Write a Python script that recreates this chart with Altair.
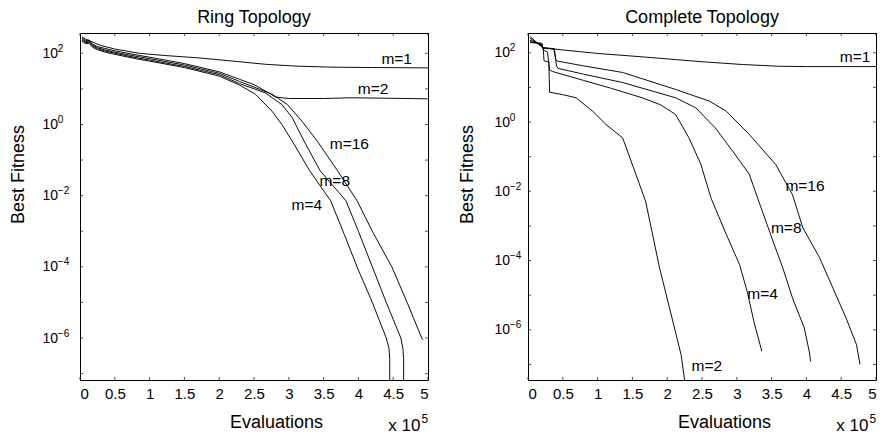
import altair as alt
import pandas as pd

# ---------------- data (x in units of 1e5 evaluations, y as log10 of best fitness) -------------
ring_m1_x = [0.03, 0.08, 0.13, 0.2, 0.3, 0.5, 0.85, 1.2, 1.71, 2.2, 2.67, 3.1, 3.62, 4.2, 5.0]
ring_m1_e = [2.46, 2.40, 2.36, 2.30, 2.22, 2.12, 2.00, 1.94, 1.87, 1.78, 1.69, 1.64, 1.61, 1.60, 1.59]

ring_m2_x = [0.03, 0.08, 0.13, 0.18, 0.25, 0.35, 0.5, 0.85, 1.0, 1.5, 2.0, 2.29, 2.5, 2.7, 2.81, 3.0, 3.5, 3.9, 4.3, 5.0]
ring_m2_e = [2.43, 2.36, 2.37, 2.26, 2.19, 2.14, 2.07, 1.94, 1.89, 1.71, 1.48, 1.27, 1.12, 0.90, 0.77, 0.73, 0.73, 0.75, 0.74, 0.72]

ring_m16_x = [0.03, 0.08, 0.13, 0.18, 0.25, 0.35, 0.5, 0.85, 1.0, 1.5, 2.0, 2.29, 2.5, 2.76, 2.98, 3.19, 3.41, 3.7, 3.98, 4.2, 4.48, 4.7, 4.91, 4.93]
ring_m16_e = [2.40, 2.33, 2.34, 2.23, 2.16, 2.10, 2.03, 1.90, 1.85, 1.67, 1.44, 1.21, 1.05, 0.85, 0.56, 0.09, -0.47, -1.3, -2.14, -3.0, -4.0, -5.0, -6.0, -6.05]

ring_m8_x = [0.03, 0.08, 0.13, 0.18, 0.25, 0.35, 0.5, 0.85, 1.0, 1.5, 2.0, 2.29, 2.66, 2.90, 3.05, 3.22, 3.45, 3.82, 4.0, 4.2, 4.4, 4.61, 4.64, 4.65, 4.65]
ring_m8_e = [2.37, 2.30, 2.31, 2.20, 2.13, 2.07, 2.00, 1.86, 1.81, 1.63, 1.40, 1.15, 0.89, 0.56, 0.19, -0.47, -1.3, -2.14, -3.0, -4.0, -5.0, -6.0, -6.3, -6.6, -9.0]

ring_m4_x = [0.03, 0.08, 0.13, 0.18, 0.25, 0.35, 0.5, 0.85, 1.0, 1.5, 2.0, 2.29, 2.52, 2.76, 2.90, 3.05, 3.3, 3.6, 3.8, 3.98, 4.2, 4.40, 4.44, 4.45, 4.45]
ring_m4_e = [2.34, 2.27, 2.28, 2.17, 2.10, 2.04, 1.97, 1.83, 1.78, 1.60, 1.36, 1.11, 0.85, 0.37, 0.0, -0.47, -1.3, -2.14, -3.1, -4.0, -5.0, -6.0, -6.3, -6.6, -9.0]

comp_m1_x = [0.03, 0.2, 0.21, 0.5, 1.0, 1.65, 2.5, 3.08, 3.6, 4.0, 5.0]
comp_m1_e = [2.32, 2.27, 2.15, 2.08, 1.98, 1.88, 1.74, 1.66, 1.61, 1.60, 1.60]

comp_m2_x = [0.03, 0.2, 0.22, 0.23, 0.30, 0.31, 0.5, 0.69, 0.93, 1.12, 1.36, 1.55, 1.69, 1.89, 2.08, 2.20, 2.26]
comp_m2_e = [2.30, 2.25, 2.10, 1.77, 1.73, 0.86, 0.79, 0.70, 0.31, -0.07, -0.46, -1.51, -2.29, -4.21, -5.75, -6.72, -7.6]

comp_m4_x = [0.03, 0.2, 0.22, 0.28, 0.31, 0.35, 0.8, 1.2, 1.64, 1.9, 2.12, 2.31, 2.48, 2.63, 2.85, 3.04, 3.15, 3.25, 3.36]
comp_m4_e = [2.36, 2.22, 2.08, 2.02, 1.50, 1.46, 1.20, 0.97, 0.70, 0.50, 0.22, -0.45, -1.2, -2.2, -3.25, -4.12, -4.9, -5.8, -6.62]

comp_m8_x = [0.03, 0.2, 0.22, 0.38, 0.41, 0.43, 0.8, 1.36, 2.12, 2.41, 2.69, 2.94, 3.18, 3.3, 3.52, 3.66, 3.80, 3.97, 4.04, 4.06]
comp_m8_e = [2.42, 2.18, 2.13, 2.10, 1.62, 1.55, 1.38, 1.14, 0.70, 0.41, -0.17, -0.84, -1.51, -2.2, -3.44, -4.21, -5.08, -5.95, -6.62, -6.91]

comp_m16_x = [0.03, 0.2, 0.22, 0.37, 0.40, 0.42, 0.8, 1.36, 2.12, 2.61, 2.85, 3.18, 3.56, 3.8, 3.95, 4.19, 4.38, 4.57, 4.72, 4.77]
comp_m16_e = [2.47, 2.16, 2.14, 2.12, 1.80, 1.76, 1.62, 1.43, 0.94, 0.60, 0.31, -0.36, -1.23, -2.1, -3.06, -3.92, -4.79, -5.66, -6.43, -7.0]

ring_label_text = ["m=1", "m=2", "m=16", "m=8", "m=4"]
ring_label_x = [4.55, 4.21, 3.87, 3.66, 3.26]
ring_label_e = [1.85, 0.99, -0.56, -1.60, -2.25]

comp_label_text = ["m=1", "m=16", "m=8", "m=4", "m=2"]
comp_label_x = [4.70, 3.98, 3.71, 3.37, 2.57]
comp_label_e = [1.87, -1.86, -3.07, -4.98, -7.05]

x_ticks = [0, 0.5, 1, 1.5, 2, 2.5, 3, 3.5, 4, 4.5, 5]
y_label_exps = [-6, -4, -2, 0, 2]
y_label_sup = ["−6", "−4", "−2", "0", "2"]
y_tick_exps = [-7, -6, -5, -4, -3, -2, -1, 0, 1, 2]

ring_domain_e = [-7.18, 2.57]
comp_domain_e = [-7.45, 2.57]

FONT = "Liberation Sans"


def series_df(pairs):
    rows = []
    for name, xs, es in pairs:
        for i, (xv, ev) in enumerate(zip(xs, es)):
            rows.append({"series": name, "i": i, "x": xv, "y": 10.0 ** ev})
    return pd.DataFrame(rows)


def panel(title, pairs, lab_text, lab_x, lab_e, dom_e, ytitle_x, ylab_pad):
    df = series_df(pairs)
    ydom = [10.0 ** dom_e[0], 10.0 ** dom_e[1]]
    xsc = alt.Scale(domain=[0, 5], nice=False, zero=False)
    ysc = alt.Scale(type="log", domain=ydom, nice=False)
    ax = alt.Axis(values=x_ticks, format="~g", title="Evaluations",
                  titleX=196, titleY=42, titleBaseline="middle", titleAlign="center",
                  labelPadding=6, labelFontSize=15, labelOverlap=False,
                  grid=False, ticks=False, domain=False)
    ay = alt.Axis(values=[10.0 ** e for e in y_label_exps], labelExpr="'10'",
                  labelAlign="left", labelPadding=ylab_pad,
                  title="Best Fitness", titleX=ytitle_x, titleY=141,
                  titleBaseline="middle", titleAlign="center",
                  labelFontSize=14, labelOverlap=False,
                  grid=False, ticks=False, domain=False)

    lines = alt.Chart(df).mark_line(color="black", strokeWidth=0.95, clip=True).encode(
        x=alt.X("x:Q", scale=xsc, axis=ax),
        y=alt.Y("y:Q", scale=ysc, axis=ay),
        detail="series:N",
        order="i:Q",
    )

    sdf = pd.DataFrame({"t": y_label_sup, "y": [10.0 ** e for e in y_label_exps]})
    sups = alt.Chart(sdf).mark_text(font=FONT, fontSize=10, color="black", align="left",
                                    baseline="middle", dx=-ylab_pad + 15.8, dy=-4.5).encode(
        x=alt.datum(0, scale=xsc, axis=ax), y=alt.Y("y:Q", scale=ysc, axis=ay), text="t:N")

    ldf = pd.DataFrame({"t": lab_text, "x": lab_x, "y": [10.0 ** e for e in lab_e]})
    labels = alt.Chart(ldf).mark_text(font=FONT, fontSize=15.5, color="black", baseline="middle").encode(
        x=alt.X("x:Q", scale=xsc, axis=ax), y=alt.Y("y:Q", scale=ysc, axis=ay), text="t:N")

    xt = pd.DataFrame({"x": x_ticks})
    yt = pd.DataFrame({"y": [10.0 ** e for e in y_tick_exps]})
    L = 3
    tb = alt.Chart(xt).mark_tick(orient="vertical", size=L, thickness=1, color="black", yOffset=-L / 2).encode(
        x=alt.X("x:Q", scale=xsc, axis=ax), y=alt.datum(ydom[0], scale=ysc, axis=ay))
    tt = alt.Chart(xt).mark_tick(orient="vertical", size=L, thickness=1, color="black", yOffset=L / 2).encode(
        x=alt.X("x:Q", scale=xsc, axis=ax), y=alt.datum(ydom[1], scale=ysc, axis=ay))
    tl = alt.Chart(yt).mark_tick(orient="horizontal", size=L, thickness=1, color="black", xOffset=L / 2).encode(
        y=alt.Y("y:Q", scale=ysc, axis=ay), x=alt.datum(0, scale=xsc, axis=ax))
    tr = alt.Chart(yt).mark_tick(orient="horizontal", size=L, thickness=1, color="black", xOffset=-L / 2).encode(
        y=alt.Y("y:Q", scale=ysc, axis=ay), x=alt.datum(5, scale=xsc, axis=ax))

    mult = alt.Chart(pd.DataFrame({"t": ["x 10"]})).mark_text(
        font=FONT, fontSize=17, color="black", align="right", baseline="alphabetic", dx=-7.5, dy=51).encode(
        x=alt.datum(5, scale=xsc, axis=ax), y=alt.datum(ydom[0], scale=ysc, axis=ay), text="t:N")
    mult_sup = alt.Chart(pd.DataFrame({"t": ["5"]})).mark_text(
        font=FONT, fontSize=12, color="black", align="left", baseline="alphabetic", dx=-6.5, dy=43).encode(
        x=alt.datum(5, scale=xsc, axis=ax), y=alt.datum(ydom[0], scale=ysc, axis=ay), text="t:N")

    return alt.layer(lines, sups, labels, tb, tt, tl, tr, mult, mult_sup).properties(
        width=348, height=347,
        title=alt.TitleParams(title, font=FONT, fontSize=18, fontWeight="normal", color="black", offset=6),
    )


ring = panel("Ring Topology",
             [("m=1", ring_m1_x, ring_m1_e), ("m=2", ring_m2_x, ring_m2_e),
              ("m=4", ring_m4_x, ring_m4_e), ("m=8", ring_m8_x, ring_m8_e),
              ("m=16", ring_m16_x, ring_m16_e)],
             ring_label_text, ring_label_x, ring_label_e, ring_domain_e, -62, 38)

comp = panel("Complete Topology",
             [("m=1", comp_m1_x, comp_m1_e), ("m=2", comp_m2_x, comp_m2_e),
              ("m=4", comp_m4_x, comp_m4_e), ("m=8", comp_m8_x, comp_m8_e),
              ("m=16", comp_m16_x, comp_m16_e)],
             comp_label_text, comp_label_x, comp_label_e, comp_domain_e, -61, 34)

chart = alt.hconcat(ring, comp, spacing=28).properties(
    padding=0, background="white"
).configure_view(
    stroke="black", strokeWidth=1
).configure_axis(
    grid=False, domain=False, ticks=False, labelColor="black", titleColor="black",
    labelFont=FONT, titleFont=FONT, titleFontSize=18, titleFontWeight="normal",
)

chart.save("out.html", embed_options={"renderer": "svg", "actions": False})
